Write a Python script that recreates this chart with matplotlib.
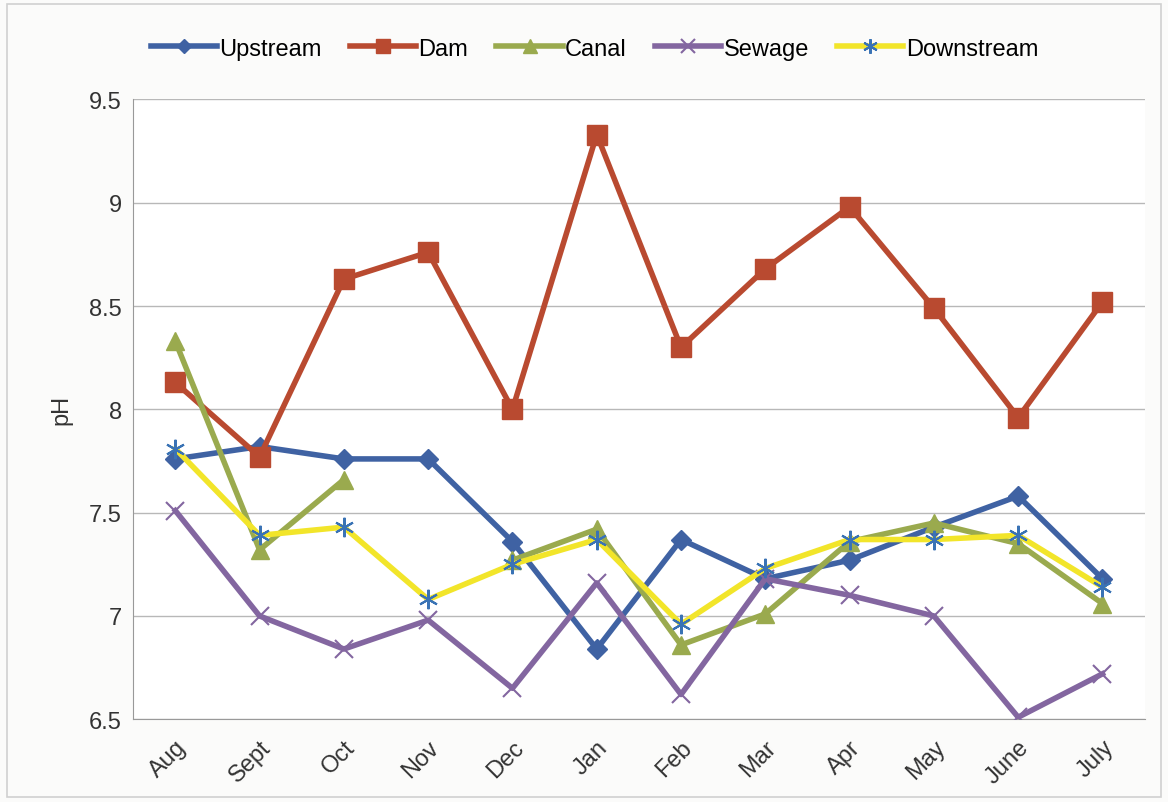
import matplotlib
matplotlib.use("Agg")
import matplotlib.pyplot as plt
import numpy as np

plt.rcParams["font.family"] = ["Liberation Sans", "DejaVu Sans"]

months = ["Aug", "Sept", "Oct", "Nov", "Dec", "Jan", "Feb", "Mar", "Apr", "May", "June", "July"]
upstream = [7.76, 7.82, 7.76, 7.76, 7.36, 6.84, 7.37, 7.18, 7.27, 7.43, 7.58, 7.18]
dam = [8.13, 7.77, 8.63, 8.76, 8.00, 9.33, 8.30, 8.68, 8.98, 8.49, 7.96, 8.52]
canal = [8.33, 7.32, 7.66, np.nan, 7.27, 7.42, 6.86, 7.01, 7.36, 7.45, 7.35, 7.06]
sewage = [7.51, 7.00, 6.84, 6.98, 6.65, 7.16, 6.62, 7.18, 7.10, 7.00, 6.51, 6.72]
downstream = [7.81, 7.39, 7.43, 7.08, 7.25, 7.37, 6.96, 7.23, 7.37, 7.37, 7.39, 7.14]

fig = plt.figure(figsize=(11.68, 8.03), dpi=100, facecolor="#fbfbfa")
fig.patches.append(plt.Rectangle((0.006, 0.006), 0.988, 0.988, transform=fig.transFigure,
                                 fill=False, edgecolor="#d0d0d0", lw=1.2))
ax = fig.add_axes([0.114, 0.103, 0.866, 0.772])
ax.set_facecolor("white")
x = np.arange(len(months))

ax.plot(x, upstream, color="#3F62A3", lw=4, marker="D", ms=10, label="Upstream", zorder=3)
ax.plot(x, dam, color="#B94A30", lw=4, marker="s", ms=14, label="Dam", zorder=3)
ax.plot(x, canal, color="#9AAA4E", lw=4, marker="^", ms=13, label="Canal", zorder=3)
ax.plot(x, sewage, color="#8366A0", lw=4, marker="x", ms=13, mew=1.5, label="Sewage", zorder=3)
ax.plot(x, downstream, color="#F2E52A", lw=4, marker=(6, 2, 0), ms=14, mec="#3A73B5", mew=1.5,
        label="Downstream", zorder=3)

ax.set_xlim(-0.5, len(months) - 0.5)
ax.set_ylim(6.5, 9.5)
ax.set_yticks([6.5, 7, 7.5, 8, 8.5, 9, 9.5])
ax.set_yticklabels(["6.5", "7", "7.5", "8", "8.5", "9", "9.5"])
ax.yaxis.grid(True, color="#b8b8b8", lw=1)
ax.set_axisbelow(True)
ax.set_xticks(x)
ax.set_xticklabels(months, rotation=45, ha="right", rotation_mode="anchor")
ax.tick_params(axis="both", labelsize=17, colors="#333333", length=0, pad=8)
ax.tick_params(axis="x", pad=12)
for s in ["top", "right"]:
    ax.spines[s].set_visible(False)
for s in ["left", "bottom"]:
    ax.spines[s].set_color("#999999")
ax.set_ylabel("pH", fontsize=17, color="#333333", labelpad=12)

ax.legend(loc="lower center", bbox_to_anchor=(0.456, 1.03), ncol=5, frameon=False,
          fontsize=17, handlelength=2.8, columnspacing=1.2, handletextpad=0.1, markerscale=0.75)

fig.savefig("out.png", dpi=100, facecolor=fig.get_facecolor())
